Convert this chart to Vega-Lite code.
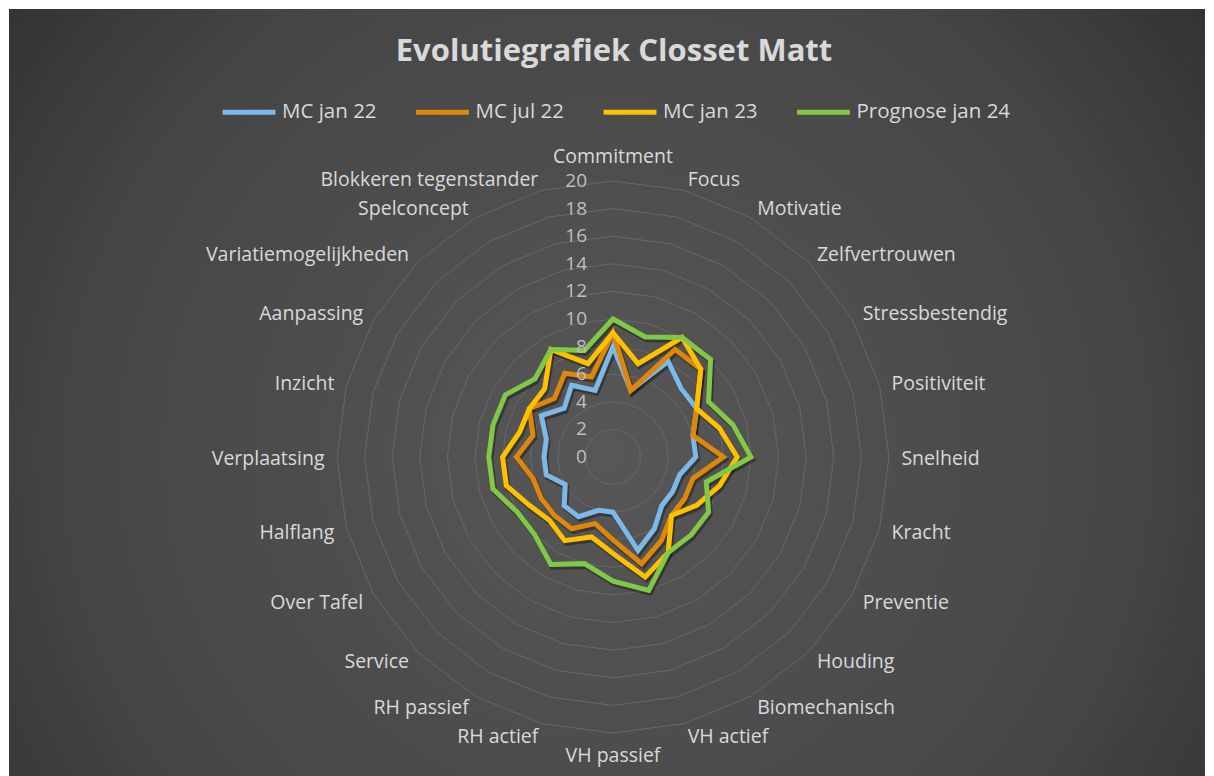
{
  "$schema": "https://vega.github.io/schema/vega-lite/v6.json",
  "width": 1196,
  "height": 767,
  "autosize": {"type": "none"},
  "padding": {"left": 9, "top": 9, "right": 9, "bottom": 0},
  "background": "#ffffff",
  "view": {
    "stroke": null,
    "fill": {
      "gradient": "radial",
      "x1": 0.5, "y1": 0.55, "r1": 0,
      "x2": 0.5, "y2": 0.55, "r2": 0.75,
      "stops": [
        {"offset": 0, "color": "#575757"},
        {"offset": 0.6, "color": "#454545"},
        {"offset": 1, "color": "#262626"}
      ]
    }
  },
  "title": {
    "text": "Evolutiegrafiek Closset Matt",
    "font": "Open Sans",
    "fontSize": 31,
    "fontWeight": "bold",
    "color": "#d9d9d9",
    "anchor": "middle",
    "frame": "group",
    "baseline": "middle",
    "offset": -74,
    "dx": 7
  },
  "datasets": {
    "scores": [
      {"idx": 0, "category": "Commitment", "MC jan 22": 8, "MC jul 22": 9, "MC jan 23": 9, "Prognose jan 24": 10},
      {"idx": 1, "category": "Focus", "MC jan 22": 5, "MC jul 22": 5, "MC jan 23": 7, "Prognose jan 24": 9},
      {"idx": 2, "category": "Motivatie", "MC jan 22": 8, "MC jul 22": 9, "MC jan 23": 10, "Prognose jan 24": 10},
      {"idx": 3, "category": "Zelfvertrouwen", "MC jan 22": 7, "MC jul 22": 9, "MC jan 23": 9, "Prognose jan 24": 10},
      {"idx": 4, "category": "Stressbestendig", "MC jan 22": 7, "MC jul 22": 7, "MC jan 23": 7, "Prognose jan 24": 8},
      {"idx": 5, "category": "Positiviteit", "MC jan 22": 6, "MC jul 22": 6, "MC jan 23": 8, "Prognose jan 24": 9},
      {"idx": 6, "category": "Snelheid", "MC jan 22": 6, "MC jul 22": 8, "MC jan 23": 9, "Prognose jan 24": 10},
      {"idx": 7, "category": "Kracht", "MC jan 22": 5, "MC jul 22": 6, "MC jan 23": 8, "Prognose jan 24": 7},
      {"idx": 8, "category": "Preventie", "MC jan 22": 5, "MC jul 22": 6, "MC jan 23": 7, "Prognose jan 24": 8},
      {"idx": 9, "category": "Houding", "MC jan 22": 5, "MC jul 22": 6, "MC jan 23": 6, "Prognose jan 24": 8},
      {"idx": 10, "category": "Biomechanisch", "MC jan 22": 6, "MC jul 22": 7, "MC jan 23": 8, "Prognose jan 24": 8},
      {"idx": 11, "category": "VH actief", "MC jan 22": 7, "MC jul 22": 8, "MC jan 23": 9, "Prognose jan 24": 10},
      {"idx": 12, "category": "VH passief", "MC jan 22": 4, "MC jul 22": 6, "MC jan 23": 7, "Prognose jan 24": 9},
      {"idx": 13, "category": "RH actief", "MC jan 22": 4, "MC jul 22": 5, "MC jan 23": 6, "Prognose jan 24": 8},
      {"idx": 14, "category": "RH passief", "MC jan 22": 5, "MC jul 22": 6, "MC jan 23": 7, "Prognose jan 24": 9},
      {"idx": 15, "category": "Service", "MC jan 22": 5, "MC jul 22": 6, "MC jan 23": 6.5, "Prognose jan 24": 8},
      {"idx": 16, "category": "Over Tafel", "MC jan 22": 4, "MC jul 22": 6, "MC jan 23": 7, "Prognose jan 24": 8},
      {"idx": 17, "category": "Halflang", "MC jan 22": 5, "MC jul 22": 6, "MC jan 23": 8, "Prognose jan 24": 9},
      {"idx": 18, "category": "Verplaatsing", "MC jan 22": 5, "MC jul 22": 7, "MC jan 23": 8, "Prognose jan 24": 9},
      {"idx": 19, "category": "Inzicht", "MC jan 22": 5, "MC jul 22": 6, "MC jan 23": 7, "Prognose jan 24": 9},
      {"idx": 20, "category": "Aanpassing", "MC jan 22": 6, "MC jul 22": 7, "MC jan 23": 7, "Prognose jan 24": 9},
      {"idx": 21, "category": "Variatiemogelijkheden", "MC jan 22": 5, "MC jul 22": 6, "MC jan 23": 7, "Prognose jan 24": 8},
      {"idx": 22, "category": "Spelconcept", "MC jan 22": 6, "MC jul 22": 7, "MC jan 23": 9, "Prognose jan 24": 9},
      {"idx": 23, "category": "Blokkeren tegenstander", "MC jan 22": 5, "MC jul 22": 6, "MC jan 23": 7, "Prognose jan 24": 8}
    ],
    "levels": [
      {"level": 0}, {"level": 2}, {"level": 4}, {"level": 6}, {"level": 8}, {"level": 10},
      {"level": 12}, {"level": 14}, {"level": 16}, {"level": 18}, {"level": 20}
    ]
  },
  "layer": [
    {
      "data": {"name": "scores"},
      "transform": [
        {"calculate": "[2, 4, 6, 8, 10, 12, 14, 16, 18, 20]", "as": "ring"},
        {"flatten": ["ring"]},
        {"calculate": "datum.ring * sin(datum.idx * PI / 12)", "as": "gx"},
        {"calculate": "datum.ring * cos(datum.idx * PI / 12)", "as": "gy"}
      ],
      "mark": {"type": "line", "interpolate": "linear-closed", "color": "#686868", "strokeWidth": 1},
      "encoding": {
        "x": {"field": "gx", "type": "quantitative", "scale": {"domain": [-43.768, 42.899], "nice": false, "zero": false}, "axis": null},
        "y": {"field": "gy", "type": "quantitative", "scale": {"domain": [-23.116, 32.464], "nice": false, "zero": false}, "axis": null},
        "detail": {"field": "ring"},
        "order": {"field": "idx", "type": "quantitative"}
      }
    },
    {
      "data": {"name": "scores"},
      "transform": [
        {"fold": ["MC jan 22", "MC jul 22", "MC jan 23", "Prognose jan 24"], "as": ["series", "value"]},
        {"calculate": "datum.value * sin(datum.idx * PI / 12)", "as": "px"},
        {"calculate": "datum.value * cos(datum.idx * PI / 12)", "as": "py"}
      ],
      "mark": {"type": "line", "interpolate": "linear-closed", "color": "#000000", "opacity": 0.35, "strokeWidth": 5.5, "xOffset": 1.5, "yOffset": 2.5},
      "encoding": {
        "x": {"field": "px", "type": "quantitative", "scale": {"domain": [-43.768, 42.899], "nice": false, "zero": false}, "axis": null},
        "y": {"field": "py", "type": "quantitative", "scale": {"domain": [-23.116, 32.464], "nice": false, "zero": false}, "axis": null},
        "detail": {"field": "series"},
        "order": {"field": "idx", "type": "quantitative"}
      }
    },
    {
      "data": {"name": "scores"},
      "transform": [
        {"fold": ["MC jan 22", "MC jul 22", "MC jan 23", "Prognose jan 24"], "as": ["series", "value"]},
        {"calculate": "datum.value * sin(datum.idx * PI / 12)", "as": "px"},
        {"calculate": "datum.value * cos(datum.idx * PI / 12)", "as": "py"}
      ],
      "mark": {"type": "line", "interpolate": "linear-closed", "strokeWidth": 5},
      "encoding": {
        "x": {"field": "px", "type": "quantitative", "scale": {"domain": [-43.768, 42.899], "nice": false, "zero": false}, "axis": null},
        "y": {"field": "py", "type": "quantitative", "scale": {"domain": [-23.116, 32.464], "nice": false, "zero": false}, "axis": null},
        "color": {
          "field": "series",
          "type": "nominal",
          "scale": {"domain": ["MC jan 22", "MC jul 22", "MC jan 23", "Prognose jan 24"], "range": ["#7cb8e8", "#de870a", "#ffc000", "#80c846"]},
          "legend": {
            "orient": "none",
            "legendX": 211,
            "legendY": 74,
            "direction": "horizontal",
            "title": null,
            "symbolType": "stroke",
            "symbolSize": 2800,
            "symbolStrokeWidth": 5,
            "labelFont": "Open Sans",
            "labelFontSize": 20.5,
            "labelColor": "#d9d9d9",
            "labelOffset": 4,
            "columnPadding": 28.5
          }
        },
        "order": {"field": "idx", "type": "quantitative"}
      }
    },
    {
      "data": {"name": "levels"},
      "mark": {"type": "text", "align": "right", "baseline": "middle", "dx": -26, "font": "Open Sans", "fontSize": 19, "color": "#bfbfbf"},
      "encoding": {
        "x": {"datum": 0, "type": "quantitative", "scale": {"domain": [-43.768, 42.899], "nice": false, "zero": false}, "axis": null},
        "y": {"field": "level", "type": "quantitative", "scale": {"domain": [-23.116, 32.464], "nice": false, "zero": false}, "axis": null},
        "text": {"field": "level", "type": "quantitative"}
      }
    },
    {
      "data": {"name": "scores"},
      "transform": [
        {"filter": "datum.idx == 0"},
        {"calculate": "21 * sin(datum.idx * PI / 12)", "as": "lx"},
        {"calculate": "21 * cos(datum.idx * PI / 12)", "as": "ly"}
      ],
      "mark": {"type": "text", "align": "center", "baseline": "bottom", "font": "Open Sans", "fontSize": 19.5, "color": "#d9d9d9"},
      "encoding": {
        "x": {"field": "lx", "type": "quantitative", "scale": {"domain": [-43.768, 42.899], "nice": false, "zero": false}, "axis": null},
        "y": {"field": "ly", "type": "quantitative", "scale": {"domain": [-23.116, 32.464], "nice": false, "zero": false}, "axis": null},
        "text": {"field": "category"}
      }
    },
    {
      "data": {"name": "scores"},
      "transform": [
        {"filter": "datum.idx == 12"},
        {"calculate": "21 * sin(datum.idx * PI / 12)", "as": "lx"},
        {"calculate": "21 * cos(datum.idx * PI / 12)", "as": "ly"}
      ],
      "mark": {"type": "text", "align": "center", "baseline": "top", "font": "Open Sans", "fontSize": 19.5, "color": "#d9d9d9"},
      "encoding": {
        "x": {"field": "lx", "type": "quantitative", "scale": {"domain": [-43.768, 42.899], "nice": false, "zero": false}, "axis": null},
        "y": {"field": "ly", "type": "quantitative", "scale": {"domain": [-23.116, 32.464], "nice": false, "zero": false}, "axis": null},
        "text": {"field": "category"}
      }
    },
    {
      "data": {"name": "scores"},
      "transform": [
        {"filter": "datum.idx > 0 && datum.idx < 12"},
        {"calculate": "20.9 * sin(datum.idx * PI / 12)", "as": "lx"},
        {"calculate": "20.9 * cos(datum.idx * PI / 12)", "as": "ly"}
      ],
      "mark": {"type": "text", "align": "left", "baseline": "middle", "dy": 1.5, "font": "Open Sans", "fontSize": 19.5, "color": "#d9d9d9"},
      "encoding": {
        "x": {"field": "lx", "type": "quantitative", "scale": {"domain": [-43.768, 42.899], "nice": false, "zero": false}, "axis": null},
        "y": {"field": "ly", "type": "quantitative", "scale": {"domain": [-23.116, 32.464], "nice": false, "zero": false}, "axis": null},
        "text": {"field": "category"}
      }
    },
    {
      "data": {"name": "scores"},
      "transform": [
        {"filter": "datum.idx > 12"},
        {"calculate": "20.9 * sin(datum.idx * PI / 12)", "as": "lx"},
        {"calculate": "20.9 * cos(datum.idx * PI / 12)", "as": "ly"}
      ],
      "mark": {"type": "text", "align": "right", "baseline": "middle", "dy": 1.5, "font": "Open Sans", "fontSize": 19.5, "color": "#d9d9d9"},
      "encoding": {
        "x": {"field": "lx", "type": "quantitative", "scale": {"domain": [-43.768, 42.899], "nice": false, "zero": false}, "axis": null},
        "y": {"field": "ly", "type": "quantitative", "scale": {"domain": [-23.116, 32.464], "nice": false, "zero": false}, "axis": null},
        "text": {"field": "category"}
      }
    }
  ],
  "config": {
    "view": {"stroke": null}
  }
}
